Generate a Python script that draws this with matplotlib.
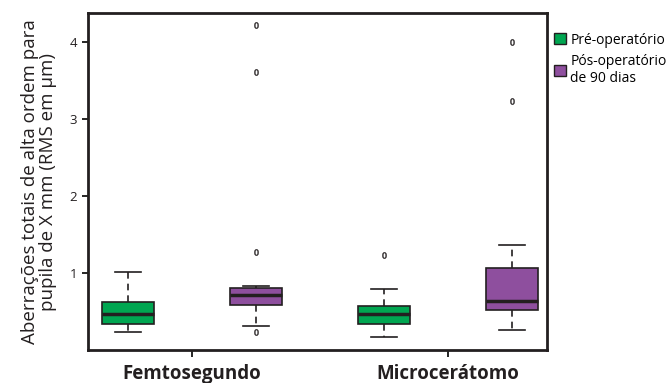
import numpy as np
import matplotlib.pyplot as plt
from matplotlib.patches import Patch

plt.rcParams['font.family'] = ['Open Sans', 'DejaVu Sans']

grupos = ['Femtosegundo', 'Microcerátomo']
series = ['Pré-operatório', 'Pós-operatório\nde 90 dias']
cores = ['#00A651', '#8E4F9E']

# estatisticas (pre, pos) para cada grupo
mediana = [[0.47, 0.71], [0.47, 0.64]]
q1 = [[0.34, 0.58], [0.34, 0.52]]
q3 = [[0.63, 0.81], [0.57, 1.06]]
whis_lo = [[0.23, 0.31], [0.17, 0.26]]
whis_hi = [[1.02, 0.83], [0.80, 1.37]]
outliers = [[[], [4.22, 3.61, 1.27, 0.23]], [[1.23], [4.00, 3.24]]]

fig = plt.figure(figsize=(6.72, 3.83), dpi=100)
ax = fig.add_axes([0.131, 0.086, 0.683, 0.880])

for g in range(len(grupos)):
    for s in range(len(series)):
        st = [dict(med=mediana[g][s], q1=q1[g][s], q3=q3[g][s],
                   whislo=whis_lo[g][s], whishi=whis_hi[g][s],
                   fliers=outliers[g][s])]
        pos = g + (s - 0.5) * 0.5
        ax.bxp(st, positions=[pos], widths=0.2, patch_artist=True,
               boxprops=dict(facecolor=cores[s], edgecolor='#231f20', linewidth=1.2),
               medianprops=dict(color='#231f20', linewidth=2.5),
               whiskerprops=dict(color='#231f20', linewidth=1.2, linestyle=(0, (4, 3))),
               capprops=dict(color='#231f20', linewidth=1.2),
               capwidths=0.1,
               flierprops=dict(marker='$0$', markersize=4.5, markeredgewidth=0.3,
                               markerfacecolor='#231f20', markeredgecolor='#231f20'))

ax.set_xlim(-0.406, 1.387)
ax.set_ylim(0, 4.38)
ax.set_yticks([1, 2, 3, 4])
ax.set_yticklabels(['1', '2', '3', '4'], fontsize=9.5, color='#231f20')
ax.set_xticks([0, 1])
ax.set_xticklabels(grupos, fontsize=13.5, fontweight='bold', color='#231f20')
ax.tick_params(axis='y', length=4, width=1.2, pad=4)
ax.tick_params(axis='x', length=5, width=1.2, pad=5)
for sp in ax.spines.values():
    sp.set_linewidth(2)
    sp.set_color('#231f20')

ax.set_ylabel('Aberrações totais de alta ordem para\npupila de X mm (RMS em μm)',
              fontsize=13.5, color='#231f20', linespacing=0.95, labelpad=9)

handles = [Patch(facecolor=c, edgecolor='#231f20', linewidth=1) for c in cores]
fig.legend(handles, series, loc='upper left', bbox_to_anchor=(0.825, 0.915),
           frameon=False, fontsize=10, handlelength=0.8, handleheight=0.8,
           handletextpad=0.35, labelspacing=0.45, borderpad=0, borderaxespad=0)

fig.savefig('out.png', dpi=100)
